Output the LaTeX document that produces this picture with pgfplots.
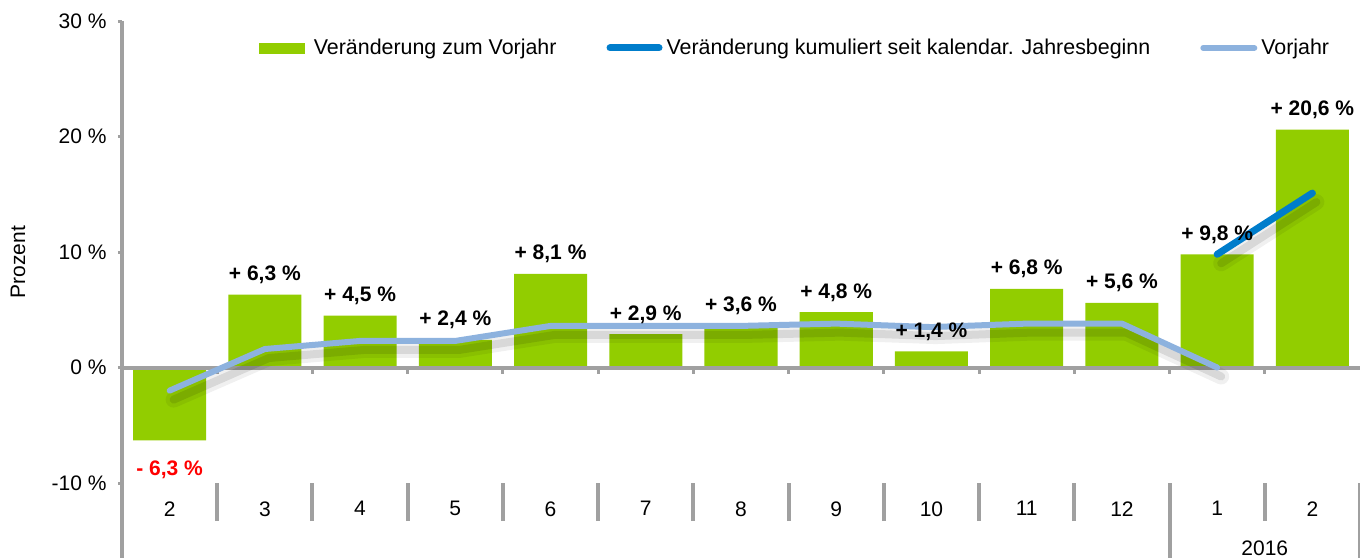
\documentclass[border=0pt]{standalone}
\usepackage{pgfplots}
\pgfplotsset{compat=1.18}
\usepackage{fontspec}
\setmainfont{Liberation Sans}
\definecolor{bargreen}{RGB}{146,205,0}
\definecolor{cumblue}{RGB}{0,125,203}
\definecolor{vjblue}{RGB}{141,178,222}
\definecolor{axgray}{RGB}{160,160,160}
\begin{document}
\fontsize{10.5}{12.6}\selectfont
\begin{tikzpicture}
\begin{axis}[
  scale only axis, width=619pt, height=231pt,
  xmin=-0.5, xmax=12.5, ymin=-10, ymax=30,
  axis x line*=bottom,
  axis y line*=left,
  x axis line style={draw=none},
  y axis line style={axgray, line width=2pt, -},
  ytick={-10,0,10,20,30},
  yticklabels={-10 \%, 0 \%, 10 \%, 20 \%, 30 \%},
  every major y tick/.style={axgray, line width=1.5pt},
  xtick={0,...,12},
  xticklabels={2,3,4,5,6,7,8,9,10,11,12,1,2},
  minor xtick={-0.5,0.5,...,12.5},
  every major x tick/.style={draw=none},
  every minor x tick/.style={axgray, line width=2pt},
  major tick length=2pt, minor tick length=19pt,
  tick align=outside,
  yticklabel style={xshift=-2pt, font=\fontsize{10.5}{12}\selectfont},
  xticklabel style={yshift=-3.5pt, font=\fontsize{10.5}{12}\selectfont},
  clip=false,
  legend columns=3,
  legend style={draw=none, fill=none, at={(0.5445,0.9416)}, anchor=center,
    font=\fontsize{10.7}{12}\selectfont,
    /tikz/every even column/.append style={column sep=23pt},
    nodes={inner sep=2pt}},
]
\coordinate (SW) at (rel axis cs:0,0);
\coordinate (NE) at (rel axis cs:1,1);
\addlegendimage{legend image code/.code={\fill[bargreen] (0pt,-2.5pt) rectangle (22.5pt,2.5pt); \path (25pt,0pt);}}
\addlegendentry{Veränderung zum Vorjahr}
\addlegendimage{legend image code/.code={\draw[cumblue, line width=3.5pt, line cap=round] (1.5pt,0pt) -- (26pt,0pt);}}
\addlegendentry{Veränderung kumuliert seit kalendar. Jahresbeginn}
\addlegendimage{legend image code/.code={\draw[vjblue, line width=3pt, line cap=round] (1.5pt,0pt) -- (27pt,0pt);}}
\addlegendentry{Vorjahr}

% bars
\addplot[ybar, bar width=0.767, fill=bargreen, draw=none, forget plot] coordinates {
 (0,-6.3) (1,6.3) (2,4.5) (3,2.4) (4,8.1) (5,2.9) (6,3.6) (7,4.8) (8,1.4) (9,6.8) (10,5.6) (11,9.8) (12,20.6)};

% zero line with small ticks
\draw[axgray, line width=2pt] (axis cs:-0.5,0) -- (axis cs:12.5,0);
\pgfplotsinvokeforeach{0.5,1.5,...,11.5}{
  \draw[axgray, line width=1.5pt] (axis cs:#1,0) -- ([yshift=-3pt]axis cs:#1,0);
}
% long separators
\draw[axgray, line width=2pt] (axis cs:-0.5,-10) -- ([yshift=-37.5pt]axis cs:-0.5,-10);
\draw[axgray, line width=2pt] (axis cs:10.5,-10) -- ([yshift=-37.5pt]axis cs:10.5,-10);
\draw[axgray, line width=2pt] (axis cs:12.5,-10) -- ([yshift=-37.5pt]axis cs:12.5,-10);
\node[font=\fontsize{10.5}{12}\selectfont] at ([yshift=-32.5pt]axis cs:11.5,-10) {2016};
\node[rotate=90, anchor=center, font=\fontsize{10.5}{12}\selectfont] at ([xshift=-52pt]rel axis cs:0,0.478) {Prozent};

% Vorjahr shadow + line
\addplot[black, opacity=0.06, line width=8pt, line join=round, line cap=round, xshift=2pt, yshift=-4.5pt, forget plot] coordinates {
 (0,-2.0) (1,1.6) (2,2.3) (3,2.3) (4,3.6) (5,3.6) (6,3.6) (7,3.8) (8,3.5) (9,3.8) (10,3.8) (11,0.0)};
\addplot[black, opacity=0.10, line width=4pt, line join=round, line cap=round, xshift=2pt, yshift=-4.5pt, forget plot] coordinates {
 (0,-2.0) (1,1.6) (2,2.3) (3,2.3) (4,3.6) (5,3.6) (6,3.6) (7,3.8) (8,3.5) (9,3.8) (10,3.8) (11,0.0)};
\addplot[vjblue, line width=3pt, line join=round, line cap=round, forget plot] coordinates {
 (0,-2.0) (1,1.6) (2,2.3) (3,2.3) (4,3.6) (5,3.6) (6,3.6) (7,3.8) (8,3.5) (9,3.8) (10,3.8) (11,0.0)};

% labels
\addplot[draw=none, mark=none, forget plot, nodes near coords, point meta=explicit symbolic,
  nodes near coords style={font=\bfseries\fontsize{10.5}{12}\selectfont, anchor=base, yshift=7pt, inner sep=0pt}] coordinates {
 (1,6.3) [{+ 6,3 \%}] (2,4.5) [{+ 4,5 \%}] (3,2.4) [{+ 2,4 \%}] (4,8.1) [{+ 8,1 \%}] (5,2.9) [{+ 2,9 \%}]
 (6,3.6) [{+ 3,6 \%}] (7,4.8) [{+ 4,8 \%}] (8,1.4) [{+ 1,4 \%}] (9,6.8) [{+ 6,8 \%}] (10,5.6) [{+ 5,6 \%}]
 (11,9.8) [{+ 9,8 \%}] (12,20.6) [{+ 20,6 \%}]};
\addplot[draw=none, mark=none, forget plot, nodes near coords, point meta=explicit symbolic,
  nodes near coords style={font=\bfseries\fontsize{10.5}{12}\selectfont, text=red, anchor=base, yshift=-17.75pt, inner sep=0pt}] coordinates {
 (0,-6.3) [{- 6,3 \%}]};

% cumulative shadow + line
\addplot[black, opacity=0.06, line width=8pt, line cap=round, xshift=2pt, yshift=-4.5pt, forget plot] coordinates {(11,9.8) (12,15.1)};
\addplot[black, opacity=0.10, line width=4pt, line cap=round, xshift=2pt, yshift=-4.5pt, forget plot] coordinates {(11,9.8) (12,15.1)};
\addplot[cumblue, line width=3.5pt, line cap=round, forget plot] coordinates {(11,9.8) (12,15.1)};
\end{axis}
\pgfresetboundingbox
\path[use as bounding box] ([shift={(-61pt,-37.5pt)}]SW) rectangle ([shift={(0pt,10.5pt)}]NE);
\end{tikzpicture}
\end{document}
